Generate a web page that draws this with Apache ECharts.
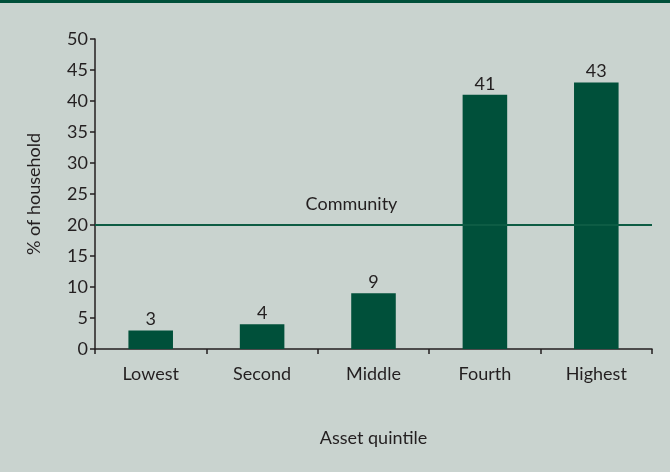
<!DOCTYPE html>
<html>
<head>
<meta charset="utf-8">
<script src="https://cdn.jsdelivr.net/npm/echarts@6/dist/echarts.min.js"></script>
<style>
  html, body { margin: 0; padding: 0; background: #c9d3cf; }
  #chart { width: 670px; height: 469px; border-top: 3px solid #00503a; }
</style>
</head>
<body>
<div id="chart"></div>
<script>
// data
const categories = ['Lowest', 'Second', 'Middle', 'Fourth', 'Highest'];
const values = [3, 4, 9, 41, 43];
const communityLevel = 20;

const textColor = '#231f20';
const barColor = '#00503a';
const font = 'Lato, "Open Sans", sans-serif';
const fs = 18;

const chart = echarts.init(document.getElementById('chart'));
chart.setOption({
    backgroundColor: '#c9d3cf',
    animation: false,
    grid: { left: 95, right: 18, top: 36, bottom: 123 },
    xAxis: {
        type: 'category',
        data: categories,
        name: 'Asset quintile',
        nameLocation: 'middle',
        nameGap: 80,
        nameTextStyle: { color: textColor, fontSize: fs, fontFamily: font },
        axisLine: { lineStyle: { color: textColor, width: 1.5 } },
        axisTick: { show: true, length: 5, alignWithLabel: false, lineStyle: { color: textColor, width: 1.5 } },
        axisLabel: { color: textColor, fontSize: fs, fontFamily: font, margin: 16 }
    },
    yAxis: {
        type: 'value',
        min: 0,
        max: 50,
        interval: 5,
        name: '% of household',
        nameLocation: 'middle',
        nameGap: 52,
        nameTextStyle: { color: textColor, fontSize: fs, fontFamily: font },
        splitLine: { show: false },
        axisLine: { show: true, lineStyle: { color: textColor, width: 1.5 } },
        axisTick: { show: true, length: 5, lineStyle: { color: textColor, width: 1.5 } },
        axisLabel: { color: textColor, fontSize: fs, fontFamily: font, margin: 7 }
    },
    series: [{
        type: 'bar',
        data: values,
        barWidth: '40%',
        itemStyle: { color: barColor },
        label: {
            show: true,
            position: 'top',
            distance: 2,
            color: textColor,
            fontSize: fs,
            fontFamily: font
        },
        markLine: {
            silent: true,
            symbol: 'none',
            lineStyle: { color: '#0d5c44', width: 2, type: 'solid' },
            label: {
                show: true,
                formatter: 'Community',
                position: 'insideMiddleTop',
                offset: [-22, -7],
                color: textColor,
                fontSize: fs,
                fontFamily: font
            },
            data: [{ yAxis: communityLevel }]
        }
    }]
});
</script>
</body>
</html>
